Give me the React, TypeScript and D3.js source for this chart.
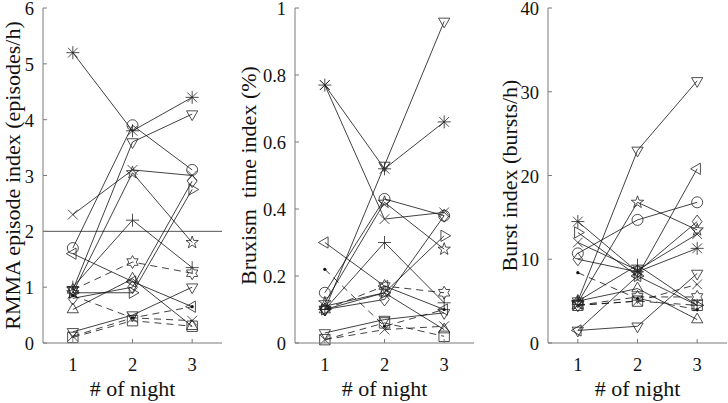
import React, { useEffect } from 'react';
import * as d3 from 'd3';

// subjects: marker + line style, same for all three panels
const markers = ['*', 'o', 'v', 'x', 'p', '+', 'h', '<', 'd', '^', 's', 'v', '.', 'x', '>'];
const dashed = [false, false, false, false, false, false, true, false, false, false, true, false, true, true, false];

const nights = [1, 2, 3];

const rmma = [
  [5.2, 3.8, 4.4],
  [1.7, 3.9, 3.1],
  [0.95, 3.6, 4.1],
  [2.3, 3.1, 3.0],
  [0.9, 3.05, 1.8],
  [1.0, 2.2, 1.35],
  [0.95, 1.45, 1.25],
  [1.6, 1.1, 0.65],
  [0.8, 1.0, 2.9],
  [0.6, 1.15, 0.3],
  [0.1, 0.4, 0.3],
  [0.2, 0.5, 1.0],
  [0.85, 0.45, 0.65],
  [0.12, 0.45, 0.4],
  [0.9, 0.9, 2.75],
];

const bruxism = [
  [0.77, 0.52, 0.66],
  [0.15, 0.43, 0.38],
  [0.1, 0.53, 0.96],
  [0.77, 0.37, 0.39],
  [0.12, 0.42, 0.28],
  [0.1, 0.3, 0.12],
  [0.1, 0.17, 0.15],
  [0.3, 0.17, 0.1],
  [0.1, 0.13, 0.38],
  [0.11, 0.15, 0.04],
  [0.01, 0.06, 0.02],
  [0.03, 0.07, 0.09],
  [0.22, 0.05, 0.1],
  [0.01, 0.04, 0.05],
  [0.1, 0.15, 0.32],
];

const burst = [
  [14.5, 8.5, 11.3],
  [10.7, 14.7, 16.8],
  [5, 23, 31.3],
  [12, 8.7, 13],
  [4.8, 16.8, 13.5],
  [5, 9.3, 4.5],
  [4.5, 5.5, 5.5],
  [1.5, 8, 20.8],
  [10, 8.5, 14.5],
  [5, 6.5, 2.8],
  [4.5, 5, 4.5],
  [1.5, 2, 8.3],
  [8.4, 5.3, 4],
  [4.5, 5, 7],
  [13.2, 8, 4.5],
];

const rmmaTicks = [0, 1, 2, 3, 4, 5, 6];
const bruxTicks = [0, 0.2, 0.4, 0.6, 0.8, 1];
const burstTicks = [0, 10, 20, 30, 40];

const panels = [
  { data: rmma, max: 6, ticks: rmmaTicks, label: 'RMMA episode index (episodes/h)', left: 43, right: 222, labelX: 20, refLine: 2 },
  { data: bruxism, max: 1, ticks: bruxTicks, label: 'Bruxism  time index (%)', left: 295, right: 474, labelX: 256, refLine: null },
  { data: burst, max: 40, ticks: burstTicks, label: 'Burst index (bursts/h)', left: 548, right: 727, labelX: 517, refLine: null },
];

const top = 8;
const bottom = 343;
const font = "'Liberation Serif'";
const axisColor = '#7a7a7a';

function markerPath(m: string, r: number): string {
  const pts = (n: number, rad: number, rot: number) =>
    d3.range(n).map(i => {
      const a = rot + (i * 2 * Math.PI) / n;
      return [rad * Math.cos(a), rad * Math.sin(a)];
    });
  const poly = (p: number[][]) => 'M' + p.map(q => q[0].toFixed(2) + ',' + q[1].toFixed(2)).join('L') + 'Z';
  switch (m) {
    case 'o':
      return `M${r},0A${r},${r} 0 1,1 ${-r},0A${r},${r} 0 1,1 ${r},0Z`;
    case '+':
      return `M${-r},0H${r}M0,${-r}V${r}`;
    case 'x': {
      const k = r * 0.75;
      return `M${-k},${-k}L${k},${k}M${-k},${k}L${k},${-k}`;
    }
    case '*': {
      const k = r * 0.75;
      return `M${-r},0H${r}M0,${-r}V${r}M${-k},${-k}L${k},${k}M${-k},${k}L${k},${-k}`;
    }
    case 's': {
      const k = r * 0.8;
      return `M${-k},${-k}H${k}V${k}H${-k}Z`;
    }
    case 'd':
      return `M0,${-r}L${r * 0.75},0L0,${r}L${-r * 0.75},0Z`;
    case '^':
      return poly(pts(3, r, -Math.PI / 2));
    case 'v':
      return poly(pts(3, r, Math.PI / 2));
    case '<':
      return poly(pts(3, r, Math.PI));
    case '>':
      return poly(pts(3, r, 0));
    case 'p': {
      const p: number[][] = [];
      for (let i = 0; i < 10; i++) {
        const a = -Math.PI / 2 + (i * Math.PI) / 5;
        const rr = i % 2 === 0 ? r : r * 0.4;
        p.push([rr * Math.cos(a), rr * Math.sin(a)]);
      }
      return poly(p);
    }
    case 'h': {
      const p: number[][] = [];
      for (let i = 0; i < 12; i++) {
        const a = -Math.PI / 2 + (i * Math.PI) / 6;
        const rr = i % 2 === 0 ? r : r * 0.58;
        p.push([rr * Math.cos(a), rr * Math.sin(a)]);
      }
      return poly(p);
    }
    default:
      return '';
  }
}

const txt = { fontFamily: font, fill: '#111' };

const Panel = ({ p }: { p: typeof panels[number] }) => {
  const x = d3.scaleLinear().domain([0.5, 3.5]).range([p.left, p.right]);
  const y = d3.scaleLinear().domain([0, p.max]).range([bottom, top]);
  const line = d3.line<number>().x((_, i) => x(nights[i])).y(d => y(d));
  return (
    <g>
      {p.refLine !== null && (
        <line x1={p.left} x2={p.right} y1={y(p.refLine)} y2={y(p.refLine)} stroke="#555" strokeWidth={1} />
      )}
      {p.data.map((s, i) => (
        <path key={'l' + i} d={line(s) || ''} fill="none" stroke="#111" strokeWidth={0.8}
          strokeDasharray={dashed[i] ? '7,5' : undefined} />
      ))}
      {p.data.map((s, i) =>
        s.map((v, j) =>
          markers[i] === '.' ? (
            <circle key={`m${i}-${j}`} cx={x(nights[j])} cy={y(v)} r={1.6} fill="#111" />
          ) : (
            <path key={`m${i}-${j}`} transform={`translate(${x(nights[j])},${y(v)})`}
              d={markerPath(markers[i], markers[i] === 'o' ? 5.5 : 6.5)} fill="none" stroke="#222" strokeWidth={0.8} />
          )
        )
      )}
      {/* axes */}
      <line x1={p.left} x2={p.left} y1={top} y2={bottom} stroke={axisColor} strokeWidth={1} />
      <line x1={p.left} x2={p.right} y1={bottom} y2={bottom} stroke={axisColor} strokeWidth={1} />
      {p.ticks.map(t => (
        <g key={'yt' + t}>
          <line x1={p.left} x2={p.left + 4} y1={y(t)} y2={y(t)} stroke={axisColor} />
          <text x={p.left - 9} y={y(t)} dy="0.38em" textAnchor="end" fontSize={18.5} style={txt}>{t}</text>
        </g>
      ))}
      {nights.map(n => (
        <g key={'xt' + n}>
          <line x1={x(n)} x2={x(n)} y1={bottom} y2={bottom - 4} stroke={axisColor} />
          <text x={x(n)} y={371} textAnchor="middle" fontSize={18.5} style={txt}>{n}</text>
        </g>
      ))}
      <text x={(p.left + p.right) / 2} y={396} textAnchor="middle" fontSize={22} style={txt}># of night</text>
      <text transform={`translate(${p.labelX},${(top + bottom) / 2}) rotate(-90)`} textAnchor="middle"
        fontSize={22} style={{ ...txt, whiteSpace: 'pre' }}>{p.label}</text>
    </g>
  );
};

export default function App() {
  useEffect(() => {
    document.body.style.margin = '0';
  }, []);
  return (
    <svg width={728} height={403} style={{ display: 'block', background: '#fff' }}>
      {panels.map((p, i) => <Panel key={i} p={p} />)}
    </svg>
  );
}
